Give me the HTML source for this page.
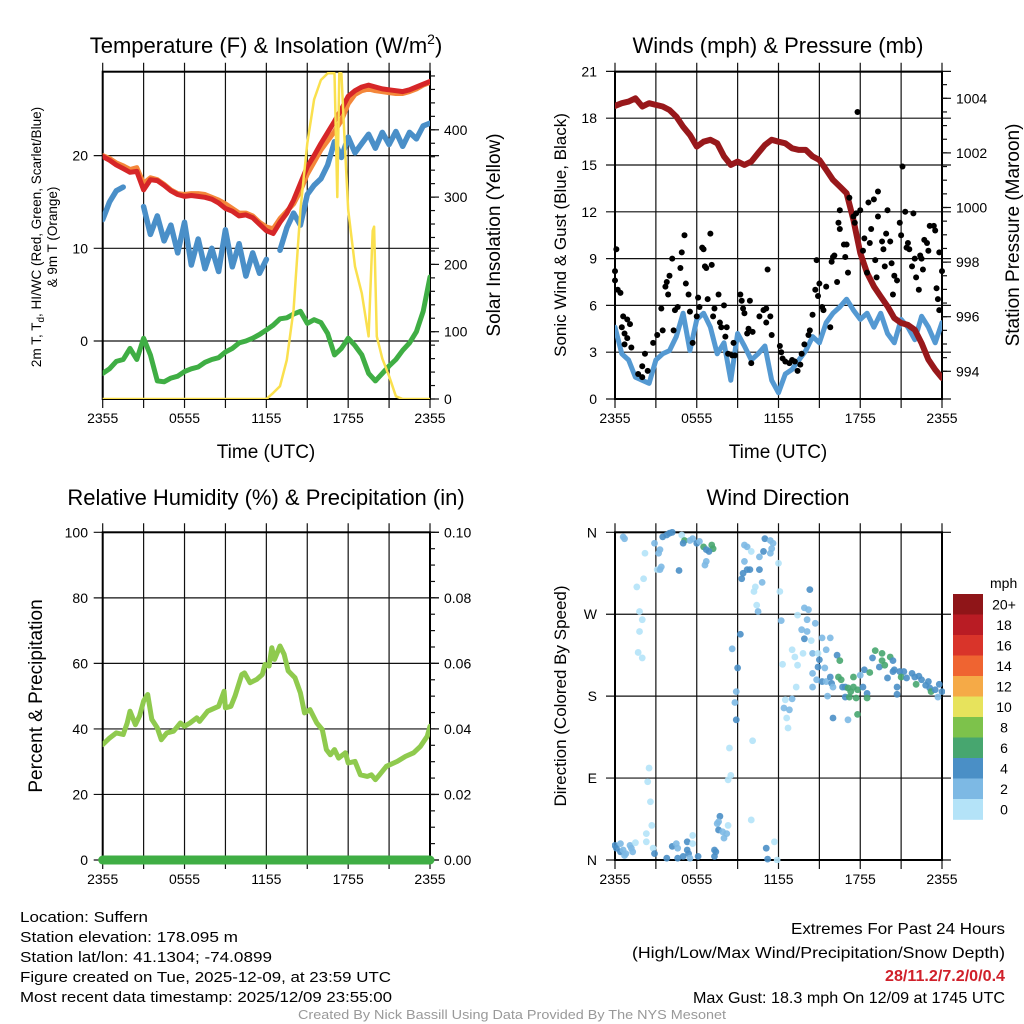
<!DOCTYPE html>
<html><head><meta charset="utf-8">
<style>
html,body{margin:0;padding:0;background:#fff;}
svg{display:block;font-family:"Liberation Sans",Arial,sans-serif;}
</style></head>
<body>
<svg id="fig" width="1024" height="1024" viewBox="0 0 1024 1024" xmlns="http://www.w3.org/2000/svg">
<defs>
<clipPath id="c1"><rect x="102.7" y="71.7" width="327.3" height="327.3"/></clipPath>
<clipPath id="c2"><rect x="615" y="71.7" width="327" height="327.3"/></clipPath>
<clipPath id="c3"><rect x="102.7" y="532.3" width="327.3" height="332"/></clipPath>
<clipPath id="c4"><rect x="612" y="529" width="333" height="334"/></clipPath>
</defs>
<g id="g1"></g>
<g id="g2"></g>
<g id="g3"></g>
<g id="g4"></g>

<text x="266" y="53" font-size="22" text-anchor="middle">Temperature (F) &amp; Insolation (W/m<tspan font-size="14" dy="-9">2</tspan><tspan dy="9">)</tspan></text>
<text x="778" y="53" font-size="22" text-anchor="middle">Winds (mph) &amp; Pressure (mb)</text>
<text x="266" y="505" font-size="22" text-anchor="middle">Relative Humidity (%) &amp; Precipitation (in)</text>
<text x="778" y="505" font-size="22" text-anchor="middle">Wind Direction</text>

<text x="266" y="458" font-size="19" text-anchor="middle">Time (UTC)</text>
<text x="778" y="458" font-size="19" text-anchor="middle">Time (UTC)</text>

<text transform="translate(41,237) rotate(-90)" font-size="13.5" text-anchor="middle">2m T, T<tspan font-size="10" dy="3">d</tspan><tspan dy="-3">, HI/WC (Red, Green, Scarlet/Blue)</tspan></text>
<text transform="translate(57,237) rotate(-90)" font-size="13.5" text-anchor="middle">&amp; 9m T (Orange)</text>
<text transform="translate(500,235) rotate(-90)" font-size="19" text-anchor="middle">Solar Insolation (Yellow)</text>
<text transform="translate(566,235) rotate(-90)" font-size="17" text-anchor="middle">Sonic Wind &amp; Gust (Blue, Black)</text>
<text transform="translate(1019,235) rotate(-90)" font-size="19" text-anchor="middle">Station Pressure (Maroon)</text>
<text transform="translate(42,696) rotate(-90)" font-size="19" text-anchor="middle">Percent &amp; Precipitation</text>
<text transform="translate(566,696) rotate(-90)" font-size="17" text-anchor="middle">Direction (Colored By Speed)</text>

<g font-size="15">
<text x="20" y="922" textLength="128" lengthAdjust="spacingAndGlyphs">Location: Suffern</text>
<text x="20" y="942" textLength="218" lengthAdjust="spacingAndGlyphs">Station elevation: 178.095 m</text>
<text x="20" y="962" textLength="252" lengthAdjust="spacingAndGlyphs">Station lat/lon: 41.1304; -74.0899</text>
<text x="20" y="982" textLength="371" lengthAdjust="spacingAndGlyphs">Figure created on Tue, 2025-12-09, at 23:59 UTC</text>
<text x="20" y="1002" textLength="372" lengthAdjust="spacingAndGlyphs">Most recent data timestamp: 2025/12/09 23:55:00</text>
</g>
<g font-size="16" text-anchor="end">
<text x="1005" y="934" textLength="214" lengthAdjust="spacingAndGlyphs">Extremes For Past 24 Hours</text>
<text x="1005" y="958" textLength="373" lengthAdjust="spacingAndGlyphs">(High/Low/Max Wind/Precipitation/Snow Depth)</text>
<text x="1005" y="981" textLength="120" lengthAdjust="spacingAndGlyphs" fill="#d0202a" font-weight="bold">28/11.2/7.2/0/0.4</text>
<text x="1005" y="1003" textLength="312" lengthAdjust="spacingAndGlyphs">Max Gust: 18.3 mph On 12/09 at 1745 UTC</text>
</g>
<text x="512" y="1019" font-size="12.5" fill="#999" text-anchor="middle" textLength="428" lengthAdjust="spacingAndGlyphs">Created By Nick Bassill Using Data Provided By The NYS Mesonet</text>
</svg>
<script>
// ---------- data ----------
var halfHours = [];
for (var i = 0; i <= 48; i++) halfHours.push(i / 2);
var xTickLabels = ["2355","0555","1155","1755","2355"];
var xTickHours = [0,6,12,18,24];

var tempRed = [19.9,19.5,19.0,18.6,18.2,18.3,16.3,17.4,17.3,16.8,16.2,15.8,15.6,15.7,15.6,15.5,15.3,14.9,14.3,14.0,13.5,13.6,13.3,12.6,11.9,11.6,12.8,13.8,15.2,17.0,18.8,20.0,21.3,22.5,23.7,25.0,26.4,27.0,27.4,27.6,27.4,27.2,27.1,27.0,26.9,27.1,27.4,27.7,28.0];
var temp9m = [20.0,19.7,19.2,18.9,18.5,18.7,17.0,17.6,17.4,16.9,16.3,15.9,15.8,15.9,15.9,15.8,15.5,15.2,14.8,14.3,13.8,13.8,13.5,12.8,12.3,12.1,13.2,14.0,14.8,16.2,18.0,19.3,20.6,21.6,22.6,23.8,25.6,26.6,27.0,27.2,27.0,26.9,26.8,26.7,26.7,26.9,27.2,27.6,27.9];
var dewBlue = [13.1,15.0,16.2,16.6,null,null,14.5,11.5,13.5,10.8,12.5,9.5,12.8,8.2,11.0,7.8,10.0,7.5,12.0,8.0,10.5,7.0,9.5,7.3,8.8,null,9.8,12.2,13.8,12.5,15.8,16.8,17.5,19.0,21.5,19.8,22.0,20.3,21.3,22.3,20.8,22.5,21.2,22.6,21.0,22.5,21.8,23.2,23.5];
var chillGreen = [-3.5,-3.0,-2.2,-2.0,-0.8,-2.0,0.3,-1.5,-4.3,-4.4,-4.0,-3.8,-3.3,-3.0,-2.8,-2.3,-2.0,-1.8,-1.2,-0.8,-0.2,0.0,0.3,0.7,1.2,1.7,2.4,2.5,2.9,3.2,1.9,2.3,2.0,0.8,-1.5,-0.8,0.3,-0.5,-1.5,-3.5,-4.3,-3.5,-2.7,-2.0,-1.0,-0.2,1.0,3.2,6.9];
var tempTicks = [0,10,20];
var solarTicks = [0,100,200,300,400];
var solarHours = [0,12,12.5,13,13.5,14,14.5,15,15.5,16,16.5,17,17.2,17.35,17.5,17.7,18,18.5,19,19.5,19.8,19.9,20.1,20.5,21,21.5,22,24];
var solarVals = [0,0,9,19,58,133,281,380,445,474,484,484,300,484,484,400,281,197,157,93,250,256,93,60,34,4,0,0];

var windSpeed = [4.6,2.9,2.5,1.4,1.2,1.0,2.5,2.9,3.1,4.0,5.5,3.1,5.1,5.5,4.6,2.9,3.6,1.2,4.2,3.4,2.5,2.9,3.4,1.2,0.4,1.6,1.9,2.5,3.1,4.0,3.6,4.9,5.5,5.9,6.4,5.7,5.1,5.5,4.6,5.5,4.2,3.6,5.1,4.6,3.8,5.3,4.6,3.6,4.9];
var pressure = [1003.72,1003.82,1003.88,1004.0,1003.7,1003.82,1003.76,1003.7,1003.57,1003.33,1002.96,1002.66,1002.23,1002.41,1002.48,1002.35,1001.87,1001.56,1001.68,1001.56,1001.68,1001.99,1002.29,1002.48,1002.41,1002.35,1002.17,1002.11,1002.11,1001.87,1001.74,1001.38,1001.01,1000.77,1000.52,999.55,998.33,997.6,997.11,996.74,996.38,995.95,995.77,995.7,995.52,995.03,994.43,994.06,993.76];
var gustHours = [0,0.1,0,0.2,0.4,0.6,0.9,1.1,0.5,0.7,0.9,0.7,1.2,2.2,2,1.7,2,2.4,2.8,3.1,3.4,3.5,3.7,3.8,3.9,4,4.2,4.3,4.4,4.6,4.8,4.9,5.1,5.2,5.4,5.5,5.7,6,6.1,6.2,6.4,6.5,6.6,6.7,6.8,7,7.1,7.2,7.3,7.6,7.7,7.8,8,8.2,8.1,8.3,8.6,8.7,8.8,9.2,9.3,9.4,9.5,9.7,9.8,9.9,10,10.1,10.6,10.9,11.1,11.2,11.1,11.4,11.5,12.1,12.2,12.3,12.5,12.8,13,13.2,13.4,13.6,13.7,13.9,14.2,14.3,14.5,14.7,14.8,14.9,15,15.2,15.3,15.5,15.8,15.9,16,16.1,16.3,16.4,16.5,16.5,16.8,16.9,17,17.1,17.2,17.5,17.6,17.7,17.8,18,18.2,18.3,18.5,18.6,18.7,18.8,19,19.1,19.2,19.3,19.3,19.6,19.7,19.8,19.9,20,20.2,20.3,20.4,20.5,20.7,20.9,21,21.1,21.3,21.4,21.5,21.6,21.8,21.9,22,22.1,22.3,22.4,22.5,22.6,22.7,22.9,23,23.1,23.4,23.5,23.6,23.7,23.8,24,23.8];
var gustVals = [8.2,9.6,7.6,7,6.8,5.3,5.1,4.8,4.6,4.2,3.9,3.5,3.3,2.9,2.1,1.6,1.4,1.8,3.6,4.1,5.8,4.4,7.2,7.5,6.7,7.9,9,4.4,5.7,5.9,8.4,9.4,10.5,7.4,6.7,5.6,3.6,5.3,6.5,5.9,9.7,9.6,8.5,8.4,6.4,10.6,8.6,5.3,5.8,6.7,4.9,4.6,6,4.6,4,2.9,2.8,3.6,2.8,6.7,6.3,5.8,5.5,4.2,4.5,6.3,2.3,4.3,5.3,5.7,5.8,8.3,4.9,5.3,4.1,3.4,3,2.6,2.4,2.3,2.5,2.4,1.8,2.2,2.9,3.5,4.1,4.4,5.4,7,8.9,6.6,7.4,5.9,5.7,7.2,4.6,8.8,9.1,9.2,7.5,11.3,10.9,12.1,9.9,9.1,9.9,8.1,12.9,11.7,11.3,11.9,18.4,12.1,9.5,10.3,8.1,12.6,10,10.9,12.8,8.9,7.8,13.3,11.7,10.1,9.6,8.5,10.6,12.1,10.1,8.7,6.7,7.9,7.6,11.3,10.5,14.9,12,9.7,10,9.6,8.5,11.9,9,7.8,7,9.2,9,8.3,10.2,10,9.5,11.1,11.1,10.8,7.1,6.4,9.4,8.2,5.7];
var windTicks = [0,3,6,9,12,15,18,21];
var pressTicks = [994,996,998,1000,1002,1004];

var rhHours = [0,0.5,1,1.5,1.8,2,2.4,2.7,3,3.3,3.6,4,4.3,4.7,5.2,5.7,6,6.4,6.9,7.1,7.7,8.5,8.9,9,9.4,9.7,10.2,10.4,10.8,11.3,11.7,11.9,12.2,12.4,12.6,13,13.3,13.6,14.1,14.5,14.8,15.2,15.7,16.1,16.4,16.7,17,17.3,17.8,18,18.5,18.9,19.4,19.7,20,20.3,20.8,21.6,22.2,22.8,23.3,23.8,24];
var rhVals = [35.2,37.2,38.8,38.3,41.8,45.4,41.3,43.9,48.5,50.5,42.9,40.3,36.7,38.8,39.3,41.8,40.8,41.8,43.4,42.3,45.4,46.9,51.5,46.4,46.9,50,56.6,57.1,54.1,55.1,56.6,59.7,59.2,64.8,61.2,65.3,62.8,57.7,55.6,51,44.9,45.9,41.8,39.8,33.7,32.1,33.7,31.1,32.7,29.6,30.1,26,25.5,26,24.5,26,28.6,30.1,31.6,32.7,34.7,37.8,40.8];
var precipHours = [0,24];
var precipVals = [0,0];
var rhTicks = [0,20,40,60,80,100];
var precipTicks = ["0.00","0.02","0.04","0.06","0.08","0.10"];

var dirHours = [0.6,0.7,2.2,2.9,3.3,3.2,1.6,2.1,1.8,2,1.8,1.7,2,3.1,3.3,3.4,3.5,3.8,4,4.2,4.9,5.1,5,5.5,5.7,6,6.2,6.5,6.7,7.1,7.2,6.9,6.7,6.6,4.7,2.5,2.4,2.6,2.7,2.3,2.3,2.8,0,0.1,0.4,0.6,0.8,1.2,1.3,1.1,1.5,0.4,0.7,2.9,3.8,4.2,4.5,4.6,4.6,5,5.3,5.3,5.4,5.5,5.7,5.7,6.1,7.3,7.4,7.3,7.7,7.6,7.5,7.6,7.9,8,8.2,8.3,8.3,8.5,8.4,8.9,8.8,8.9,9,8.6,9.2,9.3,9.4,9.7,9.9,9.5,9.7,9.5,10,10.3,10.2,10.4,10.5,10.6,10.8,10.6,10.9,11,11.4,11.5,11.4,11.6,12,12.1,12.2,12.3,12.5,13,12.4,12.8,12.6,12.7,13.3,13.2,13,13.4,13.8,13.4,13.9,14.2,14.1,14.3,13.7,14.1,14.7,13.9,14.4,14.5,14.9,15,14.9,15.2,15.8,15.5,15.4,14.5,14.8,14.5,15.2,15.5,15.8,15.9,16,15.6,16.3,16.5,16.4,16.6,16.7,16.9,17.1,17.3,17.5,16.9,17.2,17.7,17.8,17.5,18.2,18,18.3,18.5,18.5,18.7,18.9,19.1,19.4,19.6,19.6,19.8,20,20.2,20.4,20.4,20.5,20.7,20.7,20.9,21.2,21,21.4,21.8,22,22.1,22.3,22.5,22.8,23,23.1,23.2,23.5,23.7,23.8,24,16,17.1,17.8,10,10.1,11.1,11.2,11.7,11.9];
var dirAngles = [355,353,337,348,341,337,300,309,273,264,251,228,222,319,319,322,355,357,359,360,357,351,348,351,353,348,350,344,341,346,342,339,328,324,318,101,86,64,38,29,20,13,16,13,9,11,7,13,9,16,19,18,5,7,2,15,18,13,2,4,20,11,7,2,27,18,4,4,9,11,48,42,40,33,31,24,29,38,88,93,123,154,173,185,211,232,248,309,315,319,319,328,344,346,339,300,295,280,273,319,305,333,339,353,351,342,337,348,326,295,263,215,176,177,167,165,156,145,190,223,231,214,227,269,277,275,264,297,253,251,260,243,241,227,227,220,212,244,244,231,211,205,198,190,196,196,201,194,190,180,225,219,201,198,190,190,189,185,201,179,179,178,187,190,190,203,209,183,178,206,222,230,212,227,219,214,200,223,219,207,209,190,182,207,207,201,200,205,201,193,202,198,192,196,189,185,187,179,193,185,156,154,160,44,131,13,1,20,0];
var dirSpeeds = [3,3,1,3,3,3,1,1,1,1,1,1,1,1,3,3,5,5,5,5,1,7,5,3,3,5,3,7,5,7,7,5,3,3,5,1,1,1,1,1,1,1,5,5,5,3,3,3,3,3,1,3,3,5,5,5,3,3,5,5,5,5,5,3,1,1,5,5,5,5,5,3,3,5,3,3,3,1,1,1,1,5,3,3,5,3,5,5,5,5,5,3,3,3,1,1,1,1,3,5,3,3,5,5,3,3,3,3,1,1,3,1,1,3,3,3,1,1,1,1,1,1,1,1,3,3,3,5,3,3,3,5,1,3,1,5,5,3,3,3,3,3,3,3,5,3,5,5,3,3,5,7,7,7,5,5,7,7,7,5,7,7,7,7,5,3,5,5,7,7,5,7,5,7,7,7,5,7,5,5,5,5,5,5,5,7,5,5,5,7,5,5,5,5,5,7,5,3,5,5,5,3,7,1,1,5,5,1,1];
var dirTickLabels = ["N","E","S","W","N"];
var dirTickAngles = [0,90,180,270,360];
var speedBinLabels = ["20+","18","16","14","12","10","8","6","4","2","0"];
var speedBinColors = ["#8f1518","#b91c24","#d9342a","#ef6431","#f5aa47","#e7e35c","#7dc24b","#47a66f","#4a8fc6","#7db9e4","#b4e3f8"];

// ---------- helpers ----------
var NS = "http://www.w3.org/2000/svg";
function mk(parent, tag, attrs) {
  var e = document.createElementNS(NS, tag);
  for (var k in attrs) e.setAttribute(k, attrs[k]);
  parent.appendChild(e);
  return e;
}
function pathFrom(xs, ys, fx, fy) {
  var d = "", pen = false;
  for (var i = 0; i < xs.length; i++) {
    if (ys[i] === null) { pen = false; continue; }
    d += (pen ? "L" : "M") + fx(xs[i]).toFixed(1) + "," + fy(ys[i]).toFixed(1);
    pen = true;
  }
  return d;
}
function frame(g, X0, X1, Y0, Y1, hLines) {
  var grid = mk(g, "g", {stroke: "#111", "stroke-width": "1.2"});
  
  
  for (var h = 0; h <= 24; h += 3) {
    var x = X0 + h / 24 * (X1 - X0);
    mk(grid, "line", {x1: x, x2: x, y1: Y0 - 9, y2: Y1 + 9});
  }
  hLines.forEach(function (y) { mk(grid, "line", {x1: X0 - 9, x2: X1 + 9, y1: y, y2: y}); });
  var box = mk(g, "rect", {x: X0, y: Y0, width: X1 - X0, height: Y1 - Y0, fill: "none", stroke: "#000", "stroke-width": "2"});
  
  
  xTickHours.forEach(function (h, i) {
    var t = mk(g, "text", {x: X0 + h / 24 * (X1 - X0), y: Y1 + 24, "font-size": "14", "text-anchor": "middle"});
    t.textContent = xTickLabels[i];
    
    
  });
}
function leftLabels(g, x, ys, labels) {
  ys.forEach(function (y, i) {
    var t = mk(g, "text", {x: x, y: y + 5, "font-size": "14", "text-anchor": "end"});
    t.textContent = labels[i];
    
    
  });
}
function rightAxis(g, X1, Y0, vals, fy, minorStep, labels) {
  var ax = mk(g, "g", {stroke: "#111", "stroke-width": "1.2"});
  
  
  var lo = vals[0], hi = vals[vals.length - 1] + (vals[1] - vals[0]);
  for (var v = lo; v <= hi + 1e-6; v += minorStep) {
    var y = fy(v);
    if (y < Y0 - 0.5) break;
    mk(ax, "line", {x1: X1, x2: X1 + 5, y1: y, y2: y});
  }
  vals.forEach(function (v, i) {
    var y = fy(v);
    mk(ax, "line", {x1: X1, x2: X1 + 9, y1: y, y2: y});
    var t = mk(g, "text", {x: X1 + 14, y: y + 5, "font-size": "14"});
    t.textContent = labels ? labels[i] : String(v);
    
    
  });
}

// ---------- panel 1 ----------
(function () {
  var g = document.getElementById("g1");
  var X0 = 102.7, X1 = 430, Y0 = 71.7, Y1 = 399;
  var fx = function (h) { return X0 + h / 24 * (X1 - X0); };
  var fy = function (t) { return 341 - t * 9.27; };
  var fs = function (v) { return 399 - v * 0.673; };
  frame(g, X0, X1, Y0, Y1, tempTicks.map(fy));
  leftLabels(g, 88, tempTicks.map(fy), tempTicks.map(String));
  rightAxis(g, X1, Y0, solarTicks, fs, 20);
  var c = mk(g, "g", {"clip-path": "url(#c1)", fill: "none", "stroke-linejoin": "round", "stroke-linecap": "round"});
  var p;
  p = mk(c, "path", {d: pathFrom(halfHours, chillGreen, fx, fy), stroke: "#3fae44", "stroke-width": "5"});
   
  p = mk(c, "path", {d: pathFrom(halfHours, dewBlue, fx, fy), stroke: "#4a8fc8", "stroke-width": "5.5"});
   
  p = mk(c, "path", {d: pathFrom(halfHours, temp9m, fx, fy), stroke: "#f4873a", "stroke-width": "5"});
   
  p = mk(c, "path", {d: pathFrom(halfHours, tempRed, fx, fy), stroke: "#d62628", "stroke-width": "5"});
   
  p = mk(c, "path", {d: pathFrom(solarHours, solarVals, fx, fs), stroke: "#fae04e", "stroke-width": "2.5"});
   
})();

// ---------- panel 2 ----------
(function () {
  var g = document.getElementById("g2");
  var X0 = 615, X1 = 942, Y0 = 71.7, Y1 = 399;
  var fx = function (h) { return X0 + h / 24 * (X1 - X0); };
  var fy = function (w) { return 399 - w * 15.6; };
  var fp = function (p) { return 98.3 + (1004 - p) * 27.3; };
  frame(g, X0, X1, Y0, Y1, windTicks.map(fy));
  leftLabels(g, 597, windTicks.map(fy), windTicks.map(String));
  rightAxis(g, X1, Y0, pressTicks, fp, 0.5);
  var c = mk(g, "g", {"clip-path": "url(#c2)", fill: "none", "stroke-linejoin": "round", "stroke-linecap": "round"});
  var p = mk(c, "path", {d: pathFrom(halfHours, windSpeed, fx, fy), stroke: "#5499d2", "stroke-width": "5"});
   
  var dots = mk(g, "g", {fill: "#000"});
  
  
  for (var i = 0; i < gustHours.length; i++) {
    var d = mk(dots, "circle", {cx: fx(gustHours[i]), cy: fy(gustVals[i]), r: 3});
    
    
  }
  p = mk(c, "path", {d: pathFrom(halfHours, pressure, fx, fp), stroke: "#98181b", "stroke-width": "6"});
   
})();

// ---------- panel 3 ----------
(function () {
  var g = document.getElementById("g3");
  var X0 = 102.7, X1 = 430, Y0 = 532.3, Y1 = 860;
  var fx = function (h) { return X0 + h / 24 * (X1 - X0); };
  var fy = function (r) { return 860 - r * 3.277; };
  var fpr = function (v) { return 860 - v * 3277; };
  frame(g, X0, X1, Y0, Y1, rhTicks.map(fy));
  leftLabels(g, 88, rhTicks.map(fy), rhTicks.map(String));
  rightAxis(g, X1, Y0, rhTicks, fy, 5, precipTicks);
  var c = mk(g, "g", {"clip-path": "url(#c3)", fill: "none", "stroke-linejoin": "round", "stroke-linecap": "round"});
  var p = mk(c, "path", {d: pathFrom(rhHours, rhVals, fx, fy), stroke: "#8fca4e", "stroke-width": "5"});
   
  p = mk(g, "path", {d: pathFrom(precipHours, precipVals, fx, fpr), stroke: "#3fae44", "stroke-width": "9", "stroke-linecap": "round", fill: "none"});
   
})();

// ---------- panel 4 ----------
(function () {
  var g = document.getElementById("g4");
  var X0 = 615, X1 = 942, Y0 = 532.3, Y1 = 860;
  var fx = function (h) { return X0 + h / 24 * (X1 - X0); };
  var fy = function (a) { return 860 - a / 360 * (Y1 - Y0); };
  frame(g, X0, X1, Y0, Y1, dirTickAngles.map(fy));
  leftLabels(g, 597, dirTickAngles.map(fy), dirTickLabels);
  function colorFor(s) {
    var idx = Math.min(10, Math.floor(s / 2));
    return speedBinColors[10 - idx];
  }
  var dots = mk(g, "g", {"clip-path": "url(#c4)"});
  
  
  for (var i = 0; i < dirHours.length; i++) {
    var d = mk(dots, "circle", {cx: fx(dirHours[i]), cy: fy(dirAngles[i]), r: 3.4, fill: colorFor(dirSpeeds[i]), "fill-opacity": "0.9"});
    
    
  }
  var cb = mk(g, "g", {});
  
  
  var t = mk(cb, "text", {x: 990, y: 588, "font-size": "14"});
  t.textContent = "mph";
  
  
  var top = 594, hgt = 20.5;
  speedBinColors.forEach(function (col, i) {
    var r = mk(cb, "rect", {x: 953, y: top + i * hgt, width: 30, height: hgt + 0.3, fill: col});
    
    
    var l = mk(cb, "text", {x: 1004, y: top + i * hgt + hgt / 2 + 5, "font-size": "14", "text-anchor": "middle"});
    l.textContent = speedBinLabels[i];
    
    
  });
})();
</script>
</body></html>
